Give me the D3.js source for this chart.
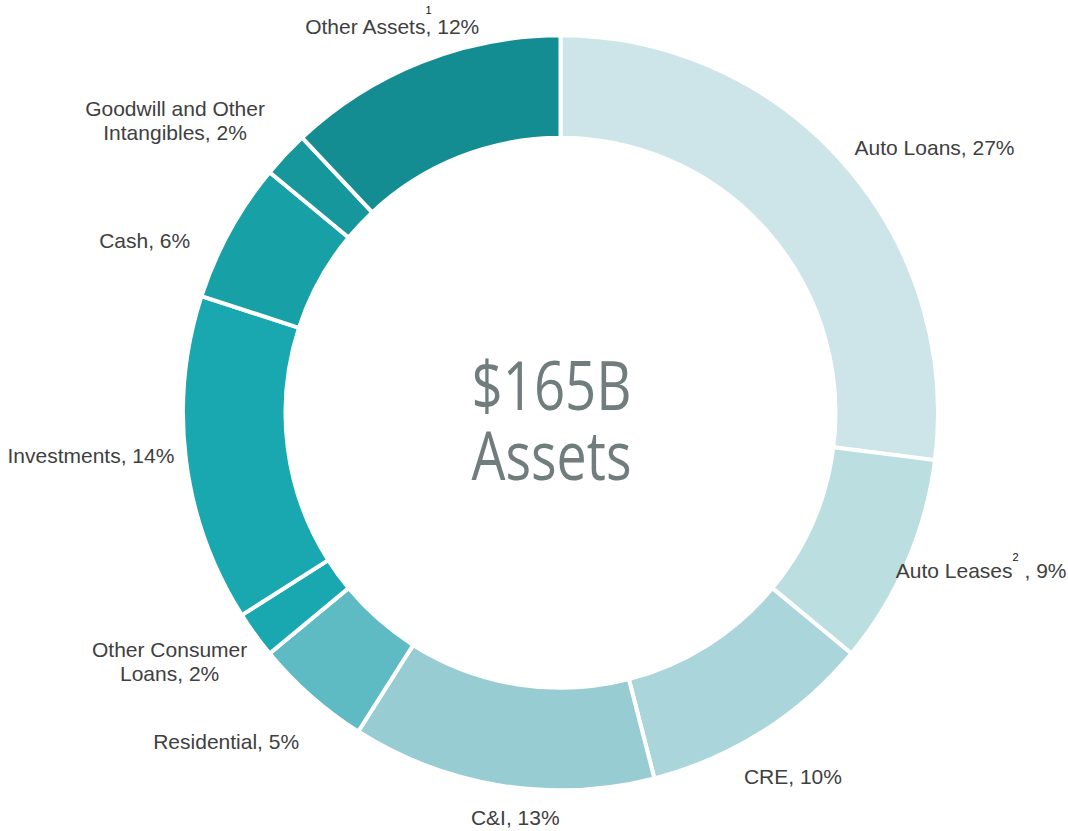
<!DOCTYPE html>
<html>
<head>
<meta charset="utf-8">
<script src="https://cdn.jsdelivr.net/npm/d3@7"></script>
<style>
  html, body { margin: 0; padding: 0; background: #ffffff; }
  svg { display: block; }
</style>
</head>
<body>
<svg id="chart" width="1068" height="831"></svg>
<script>
// ---- data ----
const categories = ["Auto Loans", "Auto Leases", "CRE", "C&I", "Residential",
  "Other Consumer Loans", "Investments", "Cash", "Goodwill and Other Intangibles", "Other Assets"];
const values = [27, 9, 10, 13, 5, 2, 14, 6, 2, 12];
const labelLines = [
  ["Auto Loans, 27%"],
  ["Auto Leases", "2", " , 9%"],
  ["CRE, 10%"],
  ["C&I, 13%"],
  ["Residential, 5%"],
  ["Other Consumer", "Loans, 2%"],
  ["Investments, 14%"],
  ["Cash, 6%"],
  ["Goodwill and Other", "Intangibles, 2%"],
  ["Other Assets", "1", ", 12%"]
];
const centerLines = ["$165B", "Assets"];

// ---- styles / layout ----
const colors = ["#CDE4E8", "#BBDEE0", "#AAD5DA", "#97CCD3", "#5EBAC3",
  "#1AA8B0", "#19A8B0", "#17A0A6", "#15979C", "#138D91"];
// nudges of each label from its slice direction point
const labelNudge = [[51.5, 26.6], [26, -5.6], [2, 8], [22, -12.5], [-50, 14],
  [-43, -9], [-43, -4], [-39, 42], [-72, -2.5], [-10, 21]];
const superIdx = { 1: { dy: -17, back: 0 }, 9: { dy: -20, back: -6 } };

const svg = d3.select("#chart");
const cx = 560.5, cy = 412.8;
const outerR = 377.5, innerR = 275;
const labelR = 430;

const g = svg.append("g").attr("transform", `translate(${cx},${cy})`);

const pie = d3.pie().sort(null).value(d => d)(values);
const arc = d3.arc().innerRadius(innerR).outerRadius(outerR);
const labelArc = d3.arc().innerRadius(labelR).outerRadius(labelR);

g.selectAll("path.slice")
  .data(pie)
  .join("path")
  .attr("class", "slice")
  .attr("d", arc)
  .attr("fill", (d, i) => colors[i])
  .attr("stroke", "#ffffff")
  .attr("stroke-width", 4)
  .attr("stroke-linejoin", "miter");

g.selectAll("text.lbl")
  .data(pie)
  .join("text")
  .attr("class", "lbl")
  .attr("text-anchor", "middle")
  .attr("font-family", "'Liberation Sans', Arial, sans-serif")
  .attr("font-size", 21)
  .attr("fill", "#404040")
  .each(function (d, i) {
    const [px, py] = labelArc.centroid(d);
    const x = px + labelNudge[i][0];
    const y = py + labelNudge[i][1];
    const t = d3.select(this).attr("x", x).attr("y", y);
    const lines = labelLines[i];
    if (superIdx[i]) {
      const s = superIdx[i];
      t.append("tspan").text(lines[0]);
      t.append("tspan").attr("font-size", 11).attr("fill", "#111111").attr("dy", s.dy).text(lines[1]);
      t.append("tspan").attr("dy", -s.dy).attr("dx", s.back).text(lines[2]);
    } else {
      lines.forEach((ln, k) => {
        t.append("tspan").attr("x", x).attr("dy", k === 0 ? 0 : 24).text(ln);
      });
    }
  });

// center text (one text element, two lines)
const ct = g.append("text")
  .attr("text-anchor", "middle")
  .attr("font-family", "'Open Sans', 'Noto Sans', sans-serif")
  .attr("font-size", 67)
  .attr("fill", "#717C7D");
ct.selectAll("tspan")
  .data(centerLines)
  .join("tspan")
  .attr("x", -9)
  .attr("y", (d, i) => i === 0 ? -2.8 : 67.2)
  .attr("textLength", 160)
  .attr("lengthAdjust", "spacingAndGlyphs")
  .text(d => d);
</script>
</body>
</html>
